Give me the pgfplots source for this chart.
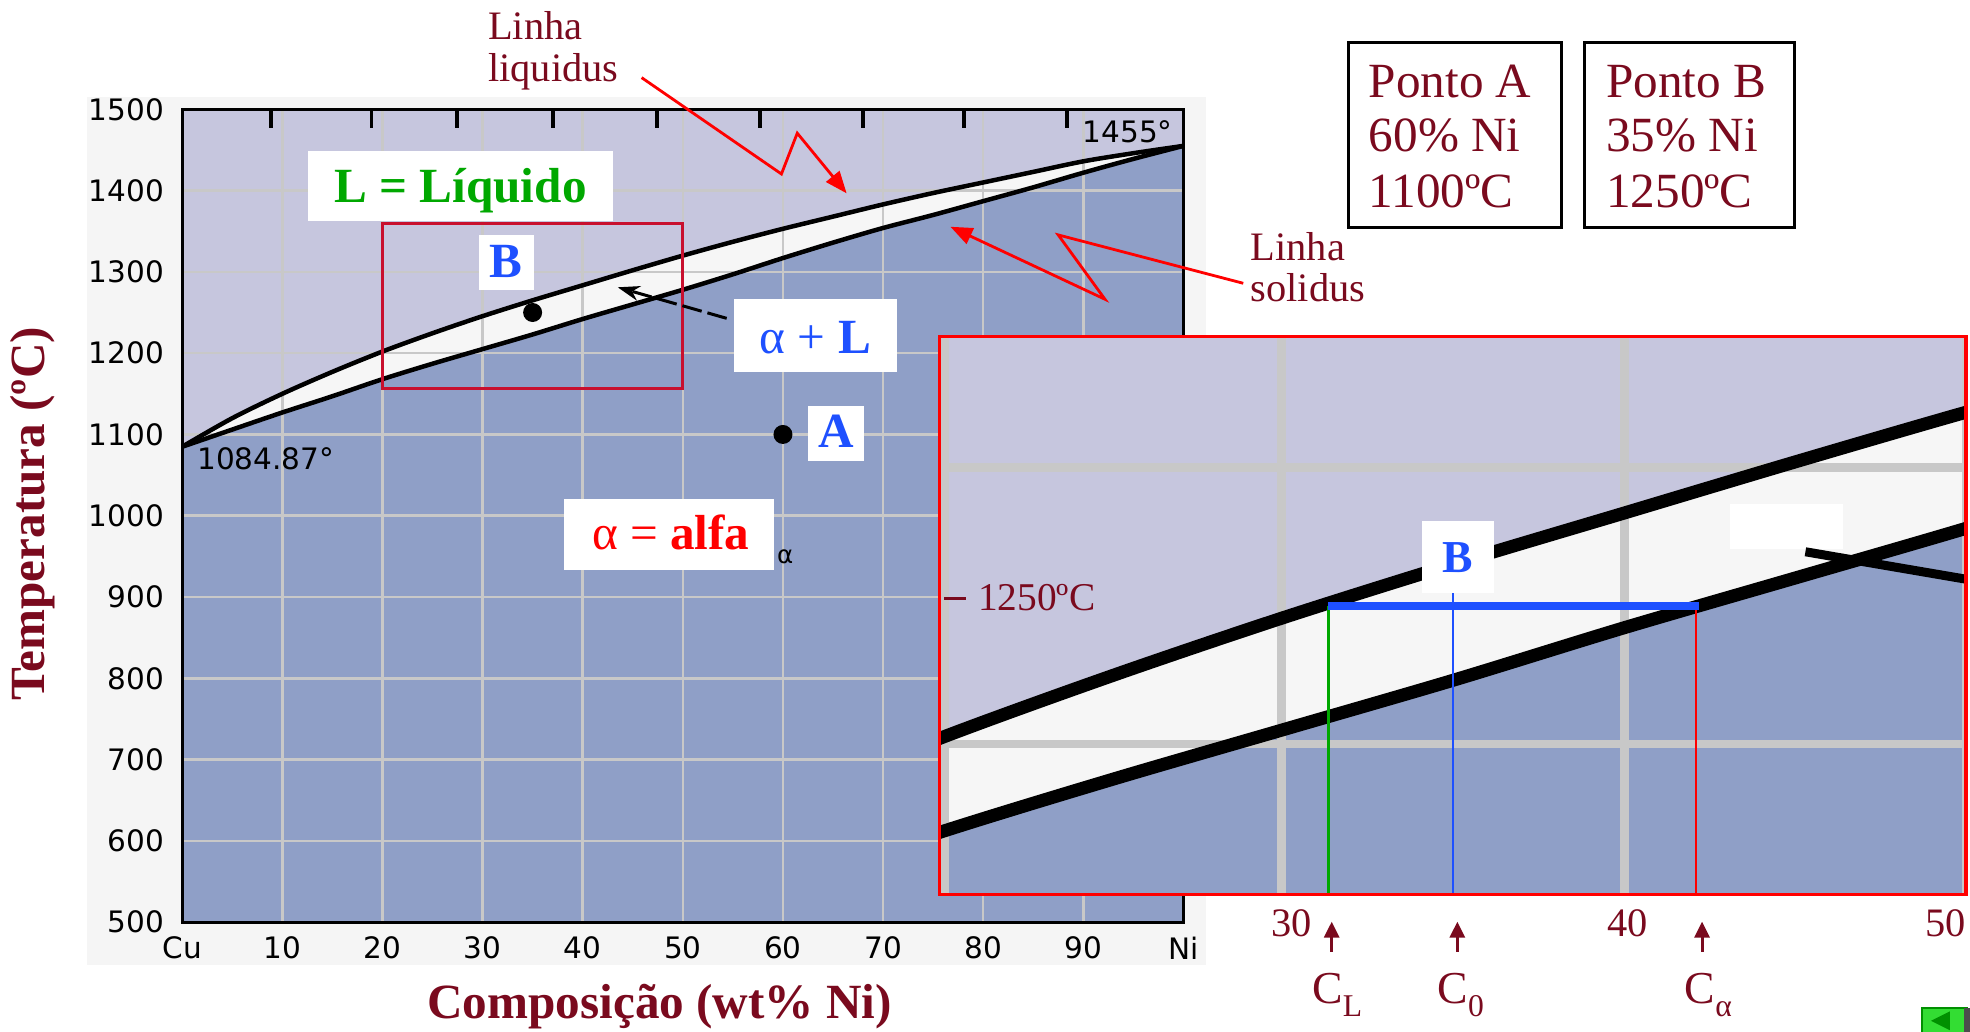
\documentclass[border=0pt]{standalone}
\usepackage{fontspec}
\setmainfont{Liberation Serif}
\newfontfamily\tickfont{DejaVu Sans}
\usepackage{pgfplots}
\usepackage{pgfplotstable}
\pgfplotsset{compat=1.18}
\usetikzlibrary{arrows.meta}

\definecolor{liq}{HTML}{C6C6DE}
\definecolor{alp}{HTML}{8F9FC7}
\definecolor{two}{HTML}{F6F6F6}
\definecolor{grd}{HTML}{C8C8C8}
\definecolor{panel}{HTML}{F5F5F5}
\definecolor{dred}{HTML}{7A0A1E}
\definecolor{bblue}{HTML}{1E50FF}
\definecolor{lgreen}{HTML}{00A800}
\definecolor{crim}{HTML}{C8102E}
\definecolor{pred}{HTML}{FF0000}
\definecolor{btn}{HTML}{33DD33}
\definecolor{btnd}{HTML}{009000}

\pgfplotstableread{
x T
0 1084.87
5 1120
10 1150
15 1177
20 1202
25 1224.5
30 1245.5
35 1265
40 1283.5
45 1302
50 1320
55 1337
60 1353
65 1368
70 1383
75 1397
80 1410
85 1423
90 1436
95 1446
100 1455
}\liquidus

\pgfplotstableread{
x T
0 1084.87
5 1106
10 1127
15 1147
20 1168
25 1187
30 1205
35 1223
40 1242
45 1260
50 1278
55 1297
60 1317
65 1336
70 1354
75 1370
80 1387
85 1404
90 1422
95 1439
100 1455
}\solidus

\tikzset{px/.style={x=0.12564mm,y=-0.12564mm}}

\begin{document}
\begin{tikzpicture}
\useasboundingbox (0,0) rectangle (197.004mm,-103.150mm);
\begin{scope}[px]
\fill[panel] (69,77) rectangle (960,768);
\end{scope}

% ---------------- main axis ----------------
\begin{axis}[
  at={(18.218mm,-92.220mm)}, anchor=south west,
  scale only axis, width=100.135mm, height=81.289mm,
  xmin=0, xmax=100, ymin=500, ymax=1500,
  axis background/.style={fill=liq},
  axis on top,
  axis line style={line width=0.3mm},
  xtick={0,10,20,30,40,50,60,70,80,90,100},
  xticklabels={Cu,10,20,30,40,50,60,70,80,90,Ni},
  ytick={500,600,700,800,900,1000,1100,1200,1300,1400,1500},
  major tick length=0pt,
  tick style={draw=none},
  ticklabel style={font=\tickfont\fontsize{8.4}{10}\selectfont},
  /pgf/number format/assume math mode=true,
  /pgf/number format/1000 sep={},
  yticklabel style={xshift=-1.6pt},
  xticklabel style={yshift=-0.7pt},
  xlabel={Composição (wt\% Ni)},
  ylabel={Temperatura (ºC)},
  every axis x label/.style={at={(axis description cs:0.4768,-0.1036)}, anchor=center,
     font=\bfseries\fontsize{14}{16}\selectfont, text=dred},
  every axis y label/.style={at={(axis description cs:-0.1493,0.5023)}, anchor=center, rotate=90,
     font=\bfseries\fontsize{14}{16}\selectfont, text=dred},
]
\addplot[fill=two, draw=none, smooth] table[x=x,y=T] {\liquidus} \closedcycle;
\addplot[fill=alp, draw=none, smooth] table[x=x,y=T] {\solidus} \closedcycle;
% grid
\pgfplotsinvokeforeach{10,20,30,40,50,60,70,80,90}{
  \draw[grd, line width=0.25mm] (axis cs:#1,500) -- (axis cs:#1,1500);}
\pgfplotsinvokeforeach{600,700,800,900,1000,1100,1200,1300,1400}{
  \draw[grd, line width=0.25mm] (axis cs:0,#1) -- (axis cs:100,#1);}
\addplot[black, line width=0.45mm, smooth] table[x=x,y=T] {\liquidus};
\addplot[black, line width=0.45mm, smooth] table[x=x,y=T] {\solidus};
\draw[crim, line width=0.3mm] (axis cs:20,1157) rectangle (axis cs:50,1359);
\addplot[only marks, mark=*, mark size=2.5pt, black] coordinates {(35,1250) (60,1100)};
\end{axis}

% ---------------- inset axis ----------------
\begin{axis}[
  at={(93.979mm,-89.456mm)}, anchor=south west,
  scale only axis, width=102.648mm, height=55.784mm,
  xmin=20, xmax=50, ymin=1145.5, ymax=1347.3,
  axis background/.style={fill=liq},
  ticks=none,
  axis line style={draw=none},
]
\addplot[fill=two, draw=none, smooth] table[x=x,y=T] {\liquidus} \closedcycle;
\addplot[fill=alp, draw=none, smooth] table[x=x,y=T] {\solidus} \closedcycle;
\pgfplotsinvokeforeach{20.15,30,40,50}{
  \draw[grd, line width=0.9mm] (axis cs:#1,1140) -- (axis cs:#1,1350);}
\pgfplotsinvokeforeach{1200,1300}{
  \draw[grd, line width=0.85mm] (axis cs:19,#1) -- (axis cs:51,#1);}
\addplot[black, line width=1.3mm, smooth] table[x=x,y=T] {\liquidus};
\addplot[black, line width=1.3mm, smooth] table[x=x,y=T] {\solidus};
\fill[white] (axis cs:43.1,1270.6) rectangle (axis cs:46.4,1286.6);
\draw[black, line width=0.9mm] (axis cs:45.3,1269.5) -- (axis cs:50.5,1258.5);
\addplot[lgreen, line width=0.25mm] coordinates {(31.36,1250) (31.36,1140)};
\addplot[bblue, line width=0.25mm] coordinates {(35,1256) (35,1140)};
\addplot[pred, line width=0.25mm] coordinates {(42.1,1250) (42.1,1140)};
\addplot[bblue, line width=0.8mm] coordinates {(31.36,1250) (42.2,1250)};
\fill[white] (axis cs:34.1,1254.6) rectangle (axis cs:36.2,1280.6);
\node[text=bblue, font=\bfseries\fontsize{13}{13}\selectfont] at (axis cs:35.15,1267.4) {B};
\end{axis}

% ---------------- annotations ----------------
\begin{scope}[px, every node/.append style={inner sep=0pt}]
% top ticks of the main axis
\fill[black] (214.5,87) rectangle (217.5,102);
\fill[black] (294.2,87) rectangle (297.2,102);
\fill[black] (362,87) rectangle (365,102);
\fill[black] (438.5,87) rectangle (441.5,102);
\fill[black] (521.3,87) rectangle (524.3,102);
\fill[black] (603.4,87) rectangle (606.4,102);
\fill[black] (685.5,87) rectangle (688.5,102);
\fill[black] (766,87) rectangle (769,102);
\fill[black] (848,87) rectangle (851,102);

\draw[pred, line width=0.35mm] (748,268) rectangle (1565,712);

% main plot labels
\fill[white] (245,120) rectangle (488,176);
\node[anchor=base, text=lgreen, font=\bfseries\fontsize{14}{14}\selectfont] at (366.5,161) {L = Líquido};
\fill[white] (381,187) rectangle (425,231);
\node[anchor=base, text=bblue, font=\bfseries\fontsize{14}{14}\selectfont] at (403,221) {B};
\fill[white] (584.4,238) rectangle (714.2,296.3);
\node[anchor=base, text=bblue, font=\fontsize{14}{14}\selectfont] at (649,281) {α + \textbf{L}};
\fill[white] (643,323) rectangle (688,367);
\node[anchor=base, text=bblue, font=\bfseries\fontsize{14}{14}\selectfont] at (665.5,356) {A};
\fill[white] (449,397) rectangle (616,454);
\node[anchor=base, text=pred, font=\fontsize{14}{14}\selectfont] at (534,437) {α = \textbf{alfa}};

\node[font=\tickfont\fontsize{8.4}{10}\selectfont] at (211.5,365) {1084.87°};
\node[anchor=east, font=\tickfont\fontsize{8.4}{10}\selectfont] at (934,105) {1455°};
\node[font=\tickfont\fontsize{7}{8}\selectfont] at (625,443) {α};

\draw[black, line width=0.3mm, dash pattern=on 2mm off 0.6mm, -{Stealth[length=2.2mm,width=1.5mm]}] (578.4,253.4) -- (491.7,228.7);

% liquidus / solidus callouts
\node[anchor=base west, text=dred, font=\fontsize{11.5}{12}\selectfont] at (388,31.3) {Linha};
\node[anchor=base west, text=dred, font=\fontsize{11.5}{12}\selectfont] at (388,65) {liquidus};
\draw[pred, line width=0.28mm, -{Triangle[length=2.2mm,width=1.7mm]}] (510.7,61.8) -- (622,138.5) -- (634.6,106) -- (673.9,153.9);
\node[anchor=base west, text=dred, font=\fontsize{11.5}{12}\selectfont] at (995,207.7) {Linha};
\node[anchor=base west, text=dred, font=\fontsize{11.5}{12}\selectfont] at (995,240.1) {solidus};
\draw[pred, line width=0.28mm, -{Triangle[length=2.2mm,width=1.7mm]}] (989.6,225.5) -- (842.3,187) -- (879.5,238.2) -- (756.5,180.5);

% Ponto boxes
\draw[black, line width=0.3mm] (1073,33.7) rectangle (1243,181);
\draw[black, line width=0.3mm] (1261.5,33.7) rectangle (1428.7,181);
\begin{scope}[every node/.style={anchor=base west, inner sep=0pt, text=dred, font=\fontsize{14}{14}\selectfont}]
\node at (1089,77.5) {Ponto A};
\node at (1089,120.7) {60\% Ni};
\node at (1089,165) {1100ºC};
\node at (1278,77.5) {Ponto B};
\node at (1278,120.7) {35\% Ni};
\node at (1278,165) {1250ºC};
\end{scope}

% inset labels
\draw[dred, line width=0.3mm] (751.5,476) -- (769,476);
\node[anchor=base west, text=dred, font=\fontsize{11.2}{12}\selectfont] at (778,486) {1250ºC};
\node[text=dred, font=\fontsize{11.5}{12}\selectfont] at (1027.8,735) {30};
\node[text=dred, font=\fontsize{11.5}{12}\selectfont] at (1295.8,735) {40};
\node[text=dred, font=\fontsize{11.5}{12}\selectfont] at (1548.5,735) {50};
\draw[dred, line width=0.3mm, -{Triangle[length=1.6mm,width=1.5mm]}] (1060,757.5) -- (1060,733.6);
\draw[dred, line width=0.3mm, -{Triangle[length=1.6mm,width=1.5mm]}] (1160,757.5) -- (1160,733.6);
\draw[dred, line width=0.3mm, -{Triangle[length=1.6mm,width=1.5mm]}] (1354.8,757.5) -- (1354.8,733.6);
\begin{scope}[every node/.style={anchor=base west, inner sep=0pt, text=dred, font=\fontsize{13}{13}\selectfont}]
\node at (1044,798.5) {C\raisebox{-3.7pt}{\fontsize{9}{9}\selectfont L}};
\node at (1143.7,798.5) {C\raisebox{-3.7pt}{\fontsize{9}{9}\selectfont 0}};
\node at (1340.5,798.5) {C\raisebox{-3.7pt}{\fontsize{9}{9}\selectfont α}};
\end{scope}

% nav button
\fill[btn, draw=btnd, line width=0.2mm] (1530,802.5) rectangle (1566,823);
\fill[btnd] (1537,812.5) -- (1552,805) -- (1552,820) -- cycle;
\fill[black!70] (1563,802.5) rectangle (1568,823);
\end{scope}
\end{tikzpicture}
\end{document}
